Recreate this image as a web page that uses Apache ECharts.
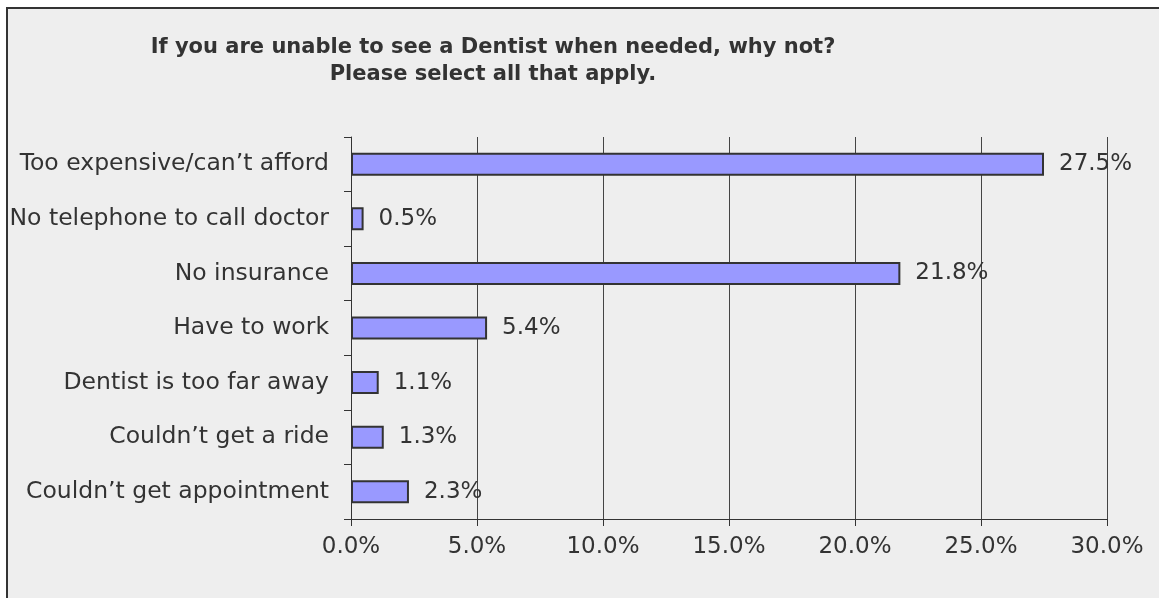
<!DOCTYPE html>
<html>
<head>
<meta charset="utf-8">
<script src="https://cdn.jsdelivr.net/npm/echarts@6/dist/echarts.min.js"></script>
<style>
  html, body { margin: 0; padding: 0; background: #ffffff; width: 1159px; height: 598px; overflow: hidden; }
  #frame { position: absolute; left: 6px; top: 7px; width: 1200px; height: 640px; background: #eeeeee; border-left: 2px solid #333; border-top: 2px solid #333; }
  #chart { position: absolute; left: 0; top: 0; width: 1159px; height: 598px; }
</style>
</head>
<body>
<div id="frame"></div>
<div id="chart"></div>
<script>
const titleLines = ["If you are unable to see a Dentist when needed, why not?", "Please select all that apply."];
const categories = [
  "Too expensive/can\u2019t afford",
  "No telephone to call doctor",
  "No insurance",
  "Have to work",
  "Dentist is too far away",
  "Couldn\u2019t get a ride",
  "Couldn\u2019t get appointment"
];
const values = [27.5, 0.5, 21.8, 5.4, 1.1, 1.3, 2.3];
const xTicks = [0, 5, 10, 15, 20, 25, 30];

const chart = echarts.init(document.getElementById('chart'), null, { renderer: 'canvas' });
const FONT = 'DejaVu Sans';
chart.setOption({
  backgroundColor: 'transparent',
  animation: false,
  title: {
    text: titleLines.join('\n'),
    left: 488,
    top: 29,
    textAlign: 'center',
    textStyle: { fontFamily: FONT, fontWeight: 'bold', fontSize: 21, color: '#333', lineHeight: 27 }
  },
  grid: { left: 351, right: 52, top: 137, bottom: 79, containLabel: false },
  xAxis: {
    type: 'value',
    min: xTicks[0],
    max: xTicks[xTicks.length - 1],
    interval: 5,
    axisLine: { show: true, lineStyle: { color: '#333', width: 1 } },
    axisTick: { show: true, length: 7, lineStyle: { color: '#333', width: 1 } },
    splitLine: { show: true, lineStyle: { color: '#444', width: 1 } },
    axisLabel: { margin: 17, fontFamily: FONT, fontSize: 23, color: '#333', formatter: v => v.toFixed(1) + '%' }
  },
  yAxis: {
    type: 'category',
    data: categories,
    inverse: true,
    axisLine: { show: true, lineStyle: { color: '#333', width: 1 } },
    axisTick: { show: true, length: 7, alignWithLabel: false, lineStyle: { color: '#333', width: 1 } },
    axisLabel: { margin: 22, fontFamily: FONT, fontSize: 23.5, color: '#333' },
    splitLine: { show: false }
  },
  series: [{
    type: 'bar',
    data: values,
    barWidth: 23,
    itemStyle: { color: '#9999ff', borderColor: '#333', borderWidth: 2 },
    label: {
      show: true,
      position: 'right',
      distance: 15,
      fontFamily: FONT,
      fontSize: 23,
      color: '#333',
      formatter: p => p.value.toFixed(1) + '%'
    }
  }]
});
</script>
</body>
</html>
